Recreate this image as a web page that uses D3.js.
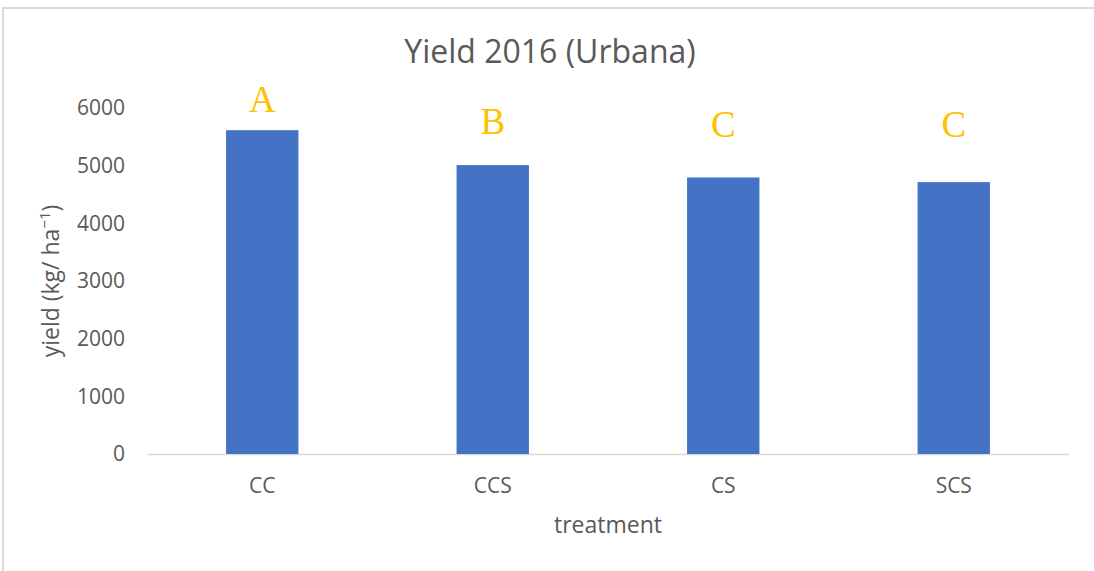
<!DOCTYPE html>
<html>
<head>
<meta charset="utf-8">
<script src="https://cdn.jsdelivr.net/npm/d3@7/dist/d3.min.js"></script>
<style>
  body { margin: 0; background: #fff; }
  svg text { font-family: 'Open Sans', sans-serif; fill: #595959; }
</style>
</head>
<body>
<div id="graf"></div>
<script>
// I. Data
tratamientos = ['CC', 'CCS', 'CS', 'SCS']
rendimiento = [5615, 5010, 4795, 4715]
letras = ['A', 'B', 'C', 'C']
// height (in kg/ha) where each letter sits
alturaLetras = [5930, 5545, 5495, 5495]
ticksY = [0, 1000, 2000, 3000, 4000, 5000, 6000]

datos = tratamientos.map((t, i) => ({
  tratamiento: t,
  valor: rendimiento[i],
  letra: letras[i],
  alturaLetra: alturaLetras[i]
}))

// II. Config
ancho_total = 1094
alto_total = 571

margins = { top: 108, left: 147, right: 25, bottom: 117 }

ancho = ancho_total - margins.left - margins.right
alto  = alto_total - margins.top - margins.bottom

svg = d3.select('#graf')
        .append('svg')
          .attr('width', ancho_total)
          .attr('height', alto_total)

// chart border (runs off right/bottom like the original)
svg.append('rect')
    .attr('x', 3)
    .attr('y', 8)
    .attr('width', ancho_total + 20)
    .attr('height', alto_total + 20)
    .attr('fill', 'none')
    .attr('stroke', '#d9d9d9')
    .attr('stroke-width', 2)

g = svg.append('g')
        .attr('transform', `translate(${ margins.left }, ${ margins.top })`)

y = d3.scaleLinear()
      .domain([0, 6000])
      .range([alto, 0])

x = d3.scaleBand()
      .domain(tratamientos)
      .range([0, ancho])
      .paddingInner(0.686)
      .paddingOuter(0.343)

// III. Axes
yAxisCall = d3.axisLeft(y)
              .tickValues(ticksY)
              .tickFormat(d3.format('d'))
              .tickSize(0)
              .tickPadding(22)
yAxisGroup = g.append('g')
              .call(yAxisCall)
              .attr('font-family', null)
              .attr('font-size', null)
yAxisGroup.select('.domain').remove()
yAxisGroup.selectAll('text')
          .style('font-size', '21px')
          .attr('fill', '#595959')

xAxisCall = d3.axisBottom(x)
              .tickSize(0)
              .tickPadding(24)
xAxisGroup = g.append('g')
              .attr('transform', `translate(0, ${ alto })`)
              .call(xAxisCall)
              .attr('font-family', null)
              .attr('font-size', null)
xAxisGroup.select('.domain')
          .attr('stroke', '#d9d9d9')
          .attr('stroke-width', 1.5)
xAxisGroup.selectAll('text')
          .style('font-size', '21px')
          .attr('fill', '#595959')

// IV. Bars
g.selectAll('rect.barra')
  .data(datos)
  .enter()
  .append('rect')
    .attr('class', 'barra')
    .attr('x', d => x(d.tratamiento))
    .attr('y', d => y(d.valor))
    .attr('width', x.bandwidth())
    .attr('height', d => alto - y(d.valor))
    .attr('fill', '#4472c4')

// significance letters
g.selectAll('text.letra')
  .data(datos)
  .enter()
  .append('text')
    .attr('class', 'letra')
    .attr('x', d => x(d.tratamiento) + x.bandwidth() / 2)
    .attr('y', d => y(d.alturaLetra))
    .attr('text-anchor', 'middle')
    .style('font-family', "'Liberation Serif', 'Times New Roman', serif")
    .style('font-size', '37px')
    .style('fill', '#ffc000')
    .text(d => d.letra)

// V. Titles
svg.append('text')
    .attr('x', 3 + ancho_total / 2)
    .attr('y', 63)
    .attr('text-anchor', 'middle')
    .style('font-size', '32px')
    .text('Yield 2016 (Urbana)')

svg.append('text')
    .attr('x', margins.left + ancho / 2)
    .attr('y', 533)
    .attr('text-anchor', 'middle')
    .style('font-size', '23px')
    .text('treatment')

etiquetaY = svg.append('text')
    .attr('transform', `translate(59, ${ margins.top + alto / 2 }) rotate(-90)`)
    .attr('text-anchor', 'middle')
    .style('font-size', '23px')
etiquetaY.append('tspan').text('yield (kg/ ha')
etiquetaY.append('tspan')
          .attr('dy', -9)
          .style('font-size', '15px')
          .text('\u22121')
etiquetaY.append('tspan')
          .attr('dy', 9)
          .text(')')
</script>
</body>
</html>
